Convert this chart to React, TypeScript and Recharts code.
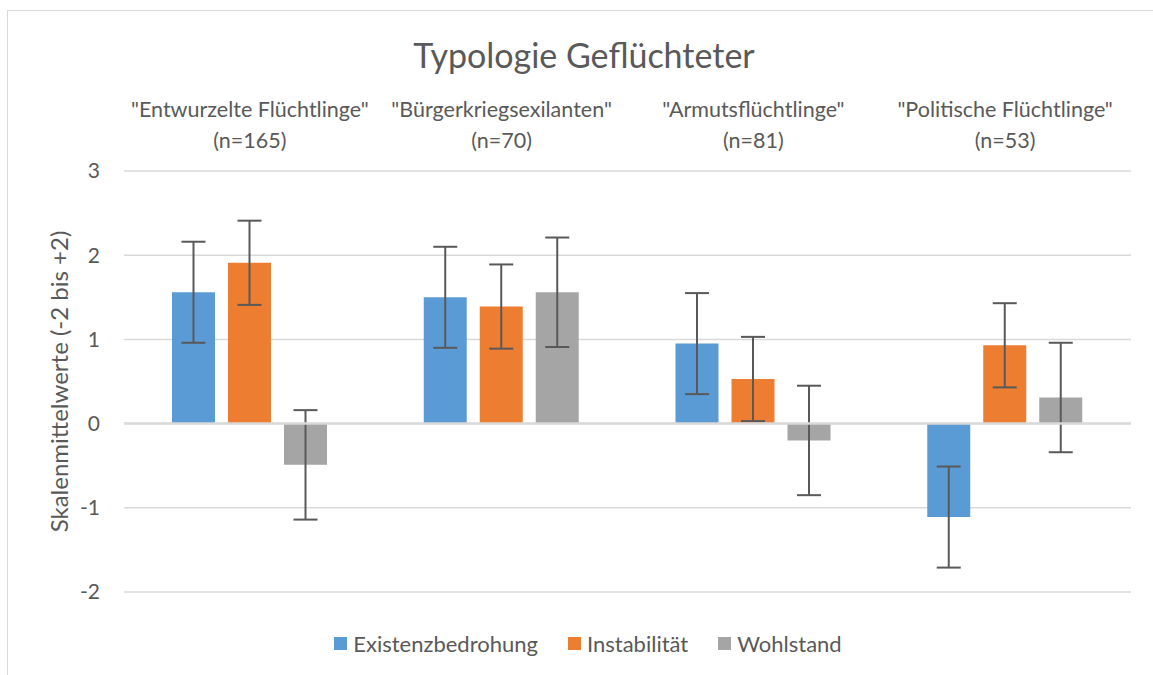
import { Bar, BarChart, CartesianGrid, ErrorBar, Label, Legend, ReferenceLine, XAxis, YAxis } from "recharts"

const categories = ['"Entwurzelte Flüchtlinge"', '"Bürgerkriegsexilanten"', '"Armutsflüchtlinge"', '"Politische Flüchtlinge"']
const sampleSizes = ["(n=165)", "(n=70)", "(n=81)", "(n=53)"]

const existenz = [1.56, 1.5, 0.95, -1.11]
const instabilitaet = [1.91, 1.39, 0.53, 0.93]
const wohlstand = [-0.49, 1.56, -0.2, 0.31]

const existenzErr = [0.6, 0.6, 0.6, 0.6]
const instabilitaetErr = [0.5, 0.5, 0.5, 0.5]
const wohlstandErr = [0.65, 0.65, 0.65, 0.65]

const yTicks = [-2, -1, 0, 1, 2, 3]

const data = categories.map((name, i) => ({
  name,
  n: sampleSizes[i],
  existenz: existenz[i],
  existenzErr: existenzErr[i],
  instabilitaet: instabilitaet[i],
  instabilitaetErr: instabilitaetErr[i],
  wohlstand: wohlstand[i],
  wohlstandErr: wohlstandErr[i],
}))

const FONT = "Lato, 'Open Sans', sans-serif"
const TEXT = "#595959"

const CategoryTick = (props: any) => {
  const { x, payload } = props
  const row = data[payload.index]
  return (
    <g>
      <text x={x} y={109} dy="0.35em" textAnchor="middle" fill={TEXT} fontSize={21.5} fontFamily={FONT}>
        {payload.value}
      </text>
      <text x={x} y={140} dy="0.35em" textAnchor="middle" fill={TEXT} fontSize={21.5} fontFamily={FONT}>
        {row ? row.n : ""}
      </text>
    </g>
  )
}

const renderLegend = (props: any) => {
  const { payload } = props
  return (
    <div style={{ display: "flex", justifyContent: "center", alignItems: "center", fontFamily: FONT, fontSize: 22, color: TEXT, height: 26 }}>
      {payload.map((entry: any) => (
        <div key={entry.value} style={{ display: "flex", alignItems: "center", margin: "0 15px" }}>
          <span style={{ display: "inline-block", width: 13, height: 13, background: entry.color, marginRight: 6 }} />
          <span>{entry.value}</span>
        </div>
      ))}
    </div>
  )
}

export default function App() {
  return (
    <div style={{ position: "absolute", left: 0, top: 0, width: 1153, height: 675, overflow: "hidden", background: "#fff" }}>
      <div style={{ position: "absolute", left: 7, top: 10, width: 1170, height: 700, border: "1px solid #d9d9d9" }} />
      <div
        style={{
          position: "absolute",
          left: 0,
          width: 1168,
          top: 34,
          textAlign: "center",
          fontFamily: FONT,
          fontSize: 34,
          color: TEXT,
          lineHeight: "42px",
        }}
      >
        Typologie Geflüchteter
      </div>
      <div style={{ position: "absolute", left: 0, top: 0 }}>
        <BarChart
          width={1153}
          height={675}
          data={data}
          margin={{ top: 111, right: 22, bottom: 57, left: 0 }}
          barSize={43}
          barGap={13}
        >
          <CartesianGrid vertical={false} stroke="#d9d9d9" strokeWidth={1.5} />
          <XAxis
            dataKey="name"
            orientation="top"
            height={60}
            axisLine={false}
            tickLine={false}
            tick={<CategoryTick />}
            interval={0}
          />
          <YAxis
            width={124}
            domain={[-2, 3]}
            ticks={yTicks}
            axisLine={false}
            tickLine={false}
            tickSize={0}
            tickMargin={24}
            tick={{ fill: TEXT, fontSize: 21, fontFamily: FONT }}
          >
            <Label
              value="Skalenmittelwerte (-2 bis +2)"
              angle={-90}
              position="center"
              dx={-3}
              fill={TEXT}
              fontSize={24}
              fontFamily={FONT}
            />
          </YAxis>
          <Legend
            verticalAlign="bottom"
            content={renderLegend}
            wrapperStyle={{ left: 0, width: 1176, top: 630 }}
          />
          <Bar dataKey="existenz" name="Existenzbedrohung" fill="#5B9BD5" isAnimationActive={false}>
            <ErrorBar dataKey="existenzErr" width={12} stroke="#595959" strokeWidth={2} direction="y" isAnimationActive={false} />
          </Bar>
          <Bar dataKey="instabilitaet" name="Instabilität" fill="#ED7D31" isAnimationActive={false}>
            <ErrorBar dataKey="instabilitaetErr" width={12} stroke="#595959" strokeWidth={2} direction="y" isAnimationActive={false} />
          </Bar>
          <Bar dataKey="wohlstand" name="Wohlstand" fill="#A5A5A5" isAnimationActive={false}>
            <ErrorBar dataKey="wohlstandErr" width={12} stroke="#595959" strokeWidth={2} direction="y" isAnimationActive={false} />
          </Bar>
          <ReferenceLine y={0} stroke="#d9d9d9" strokeWidth={2.5} />
        </BarChart>
      </div>
    </div>
  )
}
